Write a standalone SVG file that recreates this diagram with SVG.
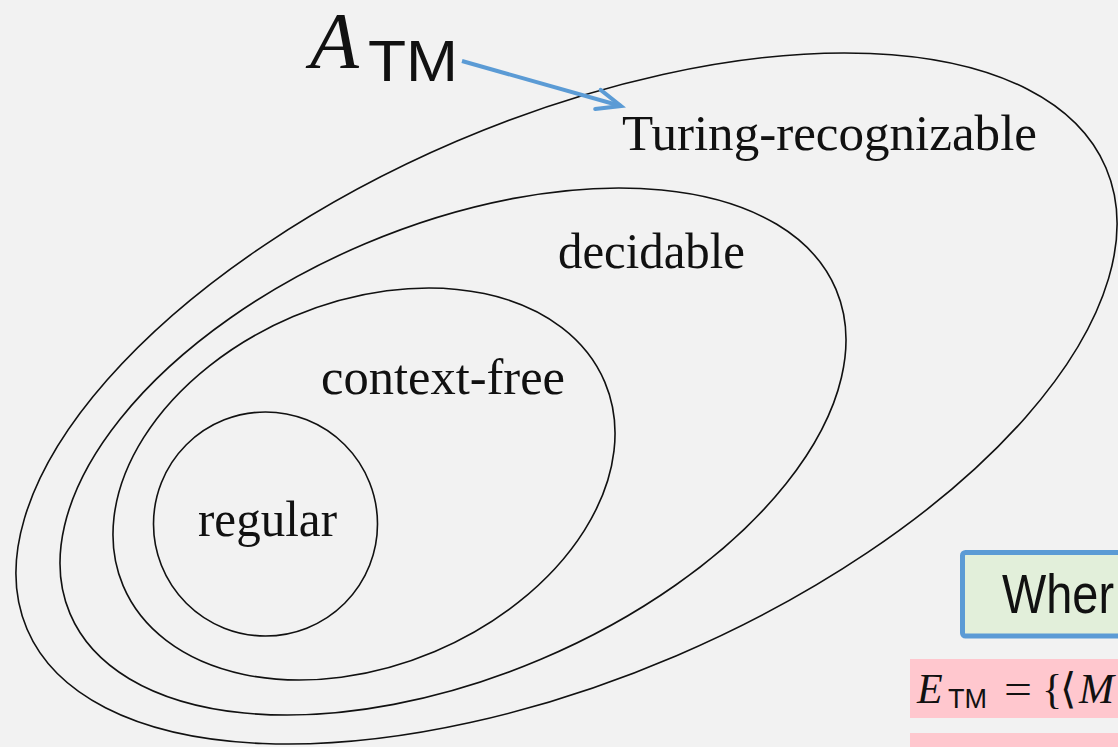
<svg xmlns="http://www.w3.org/2000/svg" width="1118" height="747" viewBox="0 0 1118 747">
  <style>
    .set { fill: none; stroke: #111; stroke-width: 1.6; }
    .lbl { font-family: "Liberation Serif", "Times New Roman", serif; font-size: 50px; fill: #111; }
    .math { font-family: "Liberation Serif", "DejaVu Serif", serif; fill: #111; }
    .sans { font-family: "Liberation Sans", Arial, sans-serif; fill: #111; }
  </style>
  <defs>
    <marker id="chev" markerUnits="userSpaceOnUse" markerWidth="40" markerHeight="40" viewBox="-30 -20 40 40" refX="0" refY="0" orient="auto">
      <path d="M-24,-10 L0,0 L-24,10" fill="none" stroke="#5B9BD5" stroke-width="4" stroke-linecap="round" stroke-linejoin="miter"/>
    </marker>
  </defs>
  <rect x="0" y="0" width="1118" height="747" fill="#F2F2F2"/>

  <g id="turing-recognizable">
    <ellipse class="set" cx="566.5" cy="398.5" rx="586.7" ry="279.7" transform="rotate(-23.16 566.5 398.5)"/>
    <text class="lbl" x="622" y="150" textLength="415" lengthAdjust="spacingAndGlyphs">Turing-recognizable</text>
  </g>
  <g id="decidable">
    <ellipse class="set" cx="453" cy="451.5" rx="415.9" ry="225.6" transform="rotate(-22.94 453 451.5)"/>
    <text class="lbl" x="558" y="268" textLength="187" lengthAdjust="spacingAndGlyphs">decidable</text>
  </g>
  <g id="context-free">
    <ellipse class="set" cx="364" cy="484" rx="261.5" ry="181.8" transform="rotate(-22.94 364 484)"/>
    <text class="lbl" x="321" y="394" textLength="244" lengthAdjust="spacingAndGlyphs">context-free</text>
  </g>
  <g id="regular">
    <circle class="set" cx="265.5" cy="524" r="112"/>
    <text class="lbl" x="198" y="536" textLength="139" lengthAdjust="spacingAndGlyphs">regular</text>
  </g>

  <g id="atm">
    <text class="math" x="310" y="68" font-size="80" font-style="italic">A</text>
    <text class="sans" x="368" y="81" font-size="57" textLength="90" lengthAdjust="spacingAndGlyphs">TM</text>
  </g>

  <g id="connectors">
    <line x1="462" y1="61" x2="621" y2="106" stroke="#5B9BD5" stroke-width="4" marker-end="url(#chev)"/>
  </g>

  <g id="where-box">
    <rect x="962.5" y="552.5" width="180" height="83.5" rx="3" fill="#E2EFDA" stroke="#5B9BD5" stroke-width="5"/>
    <text class="sans" x="1002" y="613" font-size="55" font-family="'Open Sans', sans-serif" textLength="112" lengthAdjust="spacingAndGlyphs">Wher</text>
  </g>

  <g id="etm">
    <rect x="910" y="659" width="220" height="59" fill="#FFC7CE"/>
    <text class="math" x="917" y="703" font-size="42" font-style="italic">E</text>
    <text class="sans" x="948" y="708" font-size="28" textLength="39" lengthAdjust="spacingAndGlyphs">TM</text>
    <text class="math" x="1004" y="703" font-size="42" textLength="28" lengthAdjust="spacingAndGlyphs">=</text>
    <text class="math" x="1042" y="703" font-size="42">{</text>
    <text class="math" x="1060" y="703" font-size="42">⟨</text>
    <text class="math" x="1079" y="703" font-size="42" font-style="italic">M</text>
  </g>
  <g id="second-row">
    <rect x="910" y="733" width="220" height="20" fill="#FFC7CE"/>
  </g>
</svg>
